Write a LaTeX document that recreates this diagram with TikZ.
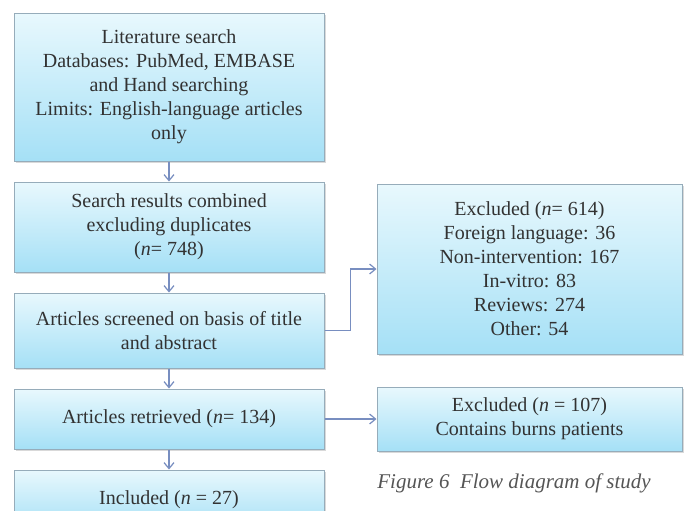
\documentclass[tikz,border=0pt]{standalone}
\usepackage{fontspec}
\setmainfont{Liberation Serif}
\usetikzlibrary{positioning,arrows.meta,shadows}
\definecolor{boxtop}{RGB}{232,248,253}
\definecolor{boxbot}{RGB}{165,224,246}
\definecolor{boxline}{RGB}{150,172,186}
\definecolor{flowline}{RGB}{120,142,192}
\definecolor{txt}{RGB}{50,50,50}
\definecolor{captxt}{RGB}{85,85,85}
\begin{document}
\begin{tikzpicture}[
    x=0.5pt, y=-0.5pt,
    node distance=10pt,
    every node/.style={font=\fontsize{10}{12}\selectfont, text=txt, align=center, inner sep=2pt},
    stage/.style={draw=boxline, line width=0.5pt, top color=boxtop, bottom color=boxbot,
        minimum width=155pt, drop shadow={shadow xshift=1pt, shadow yshift=-1pt, opacity=0.3, fill=black!50}},
    side/.style={stage, minimum width=152.5pt},
    flow/.style={draw=flowline, line width=0.6pt, -{Straight Barb[length=3pt,width=5pt]}},
    caption/.style={font=\fontsize{10.5}{13}\selectfont\itshape, text=captxt, anchor=west, inner sep=0pt}
]
\useasboundingbox (0,0) rectangle (686,510);
\clip (0,0) rectangle (686,510);
\node[stage, minimum height=74pt] (lit) at (169,87)
    {Literature search\\Databases: PubMed, EMBASE\\and Hand searching\\Limits: English-language articles\\only};
\node[stage, minimum height=45pt, below=of lit] (search)
    {Search results combined\\excluding duplicates\\(\textit{n}= 748)};
\node[stage, minimum height=37.5pt, below=of search] (screen)
    {Articles screened on basis of title\\and abstract};
\node[stage, minimum height=30pt, below=of screen] (retr)
    {Articles retrieved (\textit{n}= 134)};
\node[stage, minimum height=30pt, below=of retr] (incl)
    {Included (\textit{n} = 27)};
\node[side, minimum height=32pt, right=26pt of retr] (excl2)
    {Excluded (\textit{n} = 107)\\Contains burns patients};
\node[side, minimum height=85pt, above=16pt of excl2] (excl1)
    {Excluded (\textit{n}= 614)\\Foreign language: 36\\Non-intervention: 167\\In-vitro: 83\\Reviews: 274\\Other: 54};
\node[caption] (cap) at (377,483) {Figure 6\ \ Flow diagram of study};
\draw[flow] (lit) -- (search);
\draw[flow] (search) -- (screen);
\draw[flow] (screen) -- (retr);
\draw[flow] (retr) -- (incl);
\draw[flow] (screen.east) -- ++(26,0) |- (excl1.west);
\draw[flow] (retr) -- (excl2);
\end{tikzpicture}
\end{document}
